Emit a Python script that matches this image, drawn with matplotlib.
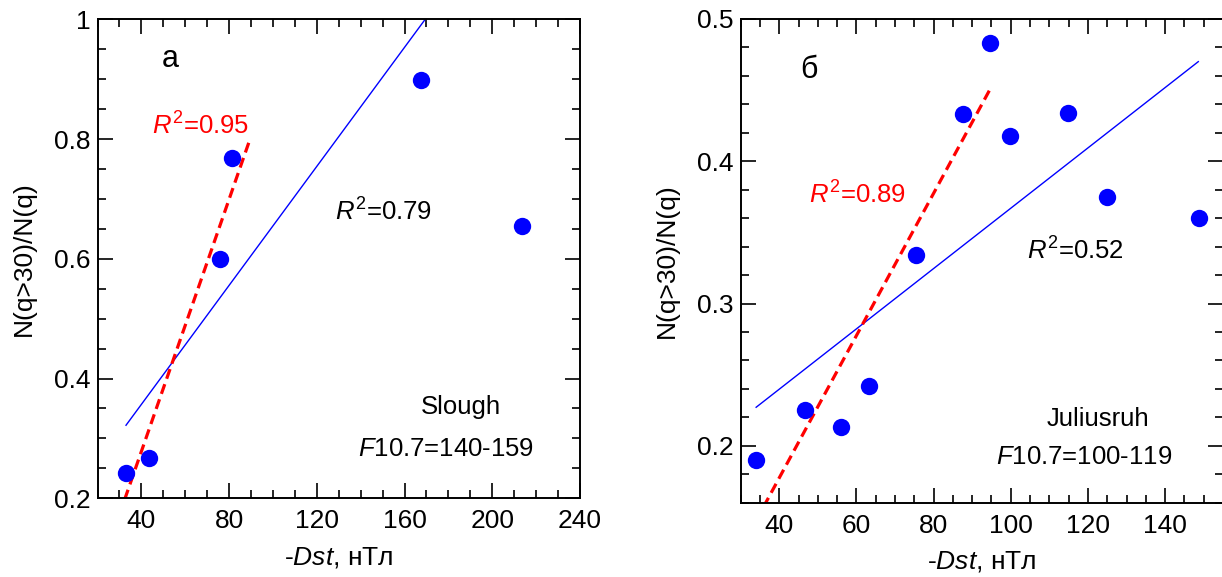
import numpy as np
import matplotlib
matplotlib.use("Agg")
import matplotlib.pyplot as plt
from matplotlib.ticker import MultipleLocator, FixedLocator

plt.rcParams.update({"font.family": ["Liberation Sans", "DejaVu Sans"], "font.size": 18.5,
                     "mathtext.fontset": "custom", "mathtext.rm": "Liberation Sans",
                     "mathtext.it": "Liberation Sans:italic"})
BLUE, RED = "#0000ff", "#ff0000"

# ---- panel a: Slough ----
dst_a = [33.0, 43.5, 76.0, 81.2, 167.4, 213.5]
ratio_a = [0.243, 0.267, 0.599, 0.769, 0.899, 0.655]
fit_all_a = (0.00497, 0.158)      # slope, intercept (R2=0.79)
fit_all_a_x = [33.0, 169.5]
fit_sub_a = (0.01053, -0.143)     # R2=0.95
fit_sub_a_x = [30.0, 89.1]

# ---- panel b: Juliusruh ----
dst_b = [34.0, 46.6, 56.1, 63.3, 75.5, 87.5, 94.5, 99.9, 114.9, 124.9, 148.7]
ratio_b = [0.190, 0.225, 0.213, 0.242, 0.334, 0.433, 0.483, 0.418, 0.434, 0.375, 0.360]
fit_all_b = (0.00212, 0.155)      # R2=0.52
fit_all_b_x = [34.0, 148.6]
fit_sub_b = (0.0050, -0.0225)     # R2=0.89
fit_sub_b_x = [30.0, 94.9]

fig = plt.figure(figsize=(12.22, 5.77), dpi=100)
axa = fig.add_axes([97.5/1222, 78.7/577, 482.5/1222, 479/577])
axb = fig.add_axes([740.7/1222, 74.3/577, 482.3/1222, 483.7/577])

def line(ax, fit, xs, **kw):
    xs = np.array(xs)
    ax.plot(xs, fit[0]*xs + fit[1], **kw)

for ax, fa, fax, fs, fsx, dx, dy in [(axa, fit_all_a, fit_all_a_x, fit_sub_a, fit_sub_a_x, dst_a, ratio_a),
                                     (axb, fit_all_b, fit_all_b_x, fit_sub_b, fit_sub_b_x, dst_b, ratio_b)]:
    line(ax, fa, fax, color=BLUE, lw=1.0, zorder=2)
    line(ax, fs, fsx, color=RED, lw=2.3, dashes=(3.2, 1.8), zorder=2)
    ax.plot(dx, dy, "o", color=BLUE, ms=12.5, mec="none", zorder=3)
    ax.tick_params(which="both", direction="in", top=True, right=True, width=1.2, labelsize=19)
    ax.tick_params(which="major", length=10.5)
    ax.tick_params(axis="x", which="major", pad=8)
    ax.tick_params(axis="y", which="major", pad=5)
    ax.tick_params(which="minor", length=5.5)
    for sp in ax.spines.values(): sp.set_linewidth(1.4)
    ax.set_xlabel("-$\\mathit{Dst}$, нТл", fontsize=19, labelpad=8)
    ax.set_ylabel("N(q>30)/N(q)", fontsize=19, labelpad=13)

axa.set_xlim(20, 240); axa.set_ylim(0.2, 1.0)
axa.xaxis.set_major_locator(FixedLocator([40, 80, 120, 160, 200, 240]))
axa.xaxis.set_minor_locator(MultipleLocator(10))
axa.yaxis.set_major_locator(FixedLocator([0.2, 0.4, 0.6, 0.8, 1.0]))
axa.set_yticklabels(["0.2", "0.4", "0.6", "0.8", "1"])
axa.yaxis.set_minor_locator(MultipleLocator(0.05))
axa.text(53.2, 0.933, "а", fontsize=22, ha="center", va="center")
axa.text(44.9, 0.807, "$R^{2}$=0.95", color=RED)
axa.text(128.2, 0.663, "$R^{2}$=0.79")
axa.text(167.4, 0.340, "Slough")
axa.text(138.8, 0.270, "$F$10.7=140-159")

axb.set_xlim(30, 155); axb.set_ylim(0.16, 0.5)
axb.xaxis.set_major_locator(FixedLocator([40, 60, 80, 100, 120, 140]))
axb.xaxis.set_minor_locator(MultipleLocator(5))
axb.yaxis.set_major_locator(FixedLocator([0.2, 0.3, 0.4, 0.5]))
axb.set_yticklabels(["0.2", "0.3", "0.4", "0.5"])
axb.yaxis.set_minor_locator(MultipleLocator(0.02))
axb.text(47.6, 0.464, "б", fontsize=22, ha="center", va="center")
axb.text(47.8, 0.370, "$R^{2}$=0.89", color=RED)
axb.text(104.1, 0.331, "$R^{2}$=0.52")
axb.text(109.3, 0.214, "Juliusruh")
axb.text(96.1, 0.187, "$F$10.7=100-119")

fig.savefig("out.png", dpi=100)
